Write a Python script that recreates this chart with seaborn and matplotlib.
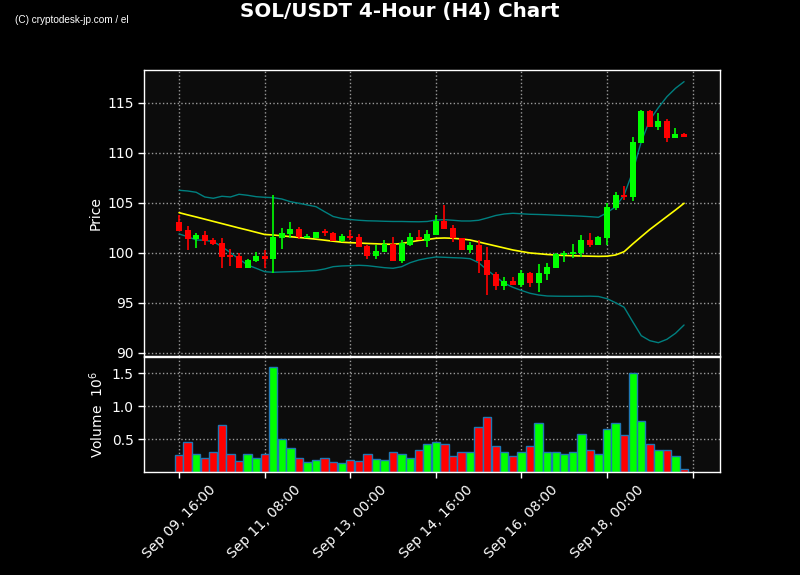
import numpy as np
import pandas as pd
import matplotlib
matplotlib.use("Agg")
import matplotlib.pyplot as plt
import seaborn as sns

# OHLC per 4h candle
opens = [103.13, 102.3, 101.4, 101.8, 101.33, 101.0, 99.77, 99.73, 98.53, 99.2,
         99.7, 99.4, 101.53, 101.93, 102.4, 101.47, 101.53, 102.17, 102.0, 101.2,
         101.73, 101.6, 100.7, 99.73, 100.13, 100.87, 99.23, 100.77, 101.6, 101.2,
         101.8, 103.17, 102.53, 101.47, 100.3, 100.8, 99.33, 97.9, 96.73, 97.2,
         96.8, 98.0, 97.03, 97.93, 98.47, 99.83, 99.93, 100.03, 101.3, 100.8,
         101.53, 104.53, 105.83, 105.63, 111.03, 114.2, 112.63, 113.2, 111.53, 111.9]
highs = [103.8, 102.7, 102.0, 102.17, 101.47, 101.47, 100.37, 100.03, 99.43, 100.07,
         100.27, 105.77, 102.47, 103.1, 102.6, 101.9, 102.1, 102.43, 102.05, 101.9,
         102.3, 101.9, 100.75, 100.8, 101.27, 101.57, 101.27, 101.97, 102.27, 102.27,
         103.8, 104.77, 102.8, 101.5, 101.07, 101.3, 100.63, 98.1, 97.57, 97.63,
         98.3, 98.05, 98.9, 98.97, 100.03, 100.23, 100.87, 101.77, 101.97, 101.65,
         104.97, 106.07, 106.67, 111.57, 114.3, 114.25, 114.03, 113.37, 112.5, 112.0]
lows = [102.2, 100.27, 100.47, 100.77, 100.83, 98.47, 98.73, 98.53, 98.53, 99.13,
        98.53, 97.97, 100.37, 101.47, 101.37, 101.47, 101.53, 101.7, 101.2, 101.1,
        101.3, 100.6, 99.37, 99.37, 100.1, 99.2, 98.97, 100.7, 101.3, 100.57,
        101.8, 102.43, 101.13, 100.3, 100.03, 97.97, 95.8, 96.3, 96.3, 96.8,
        96.57, 96.57, 96.07, 97.3, 98.45, 99.13, 99.47, 99.63, 100.63, 100.75,
        100.8, 104.3, 105.3, 105.23, 111.03, 112.63, 112.27, 111.13, 111.5, 111.6]
closes = [102.2, 101.43, 101.83, 101.2, 100.9, 99.63, 99.63, 98.53, 99.3, 99.7,
          99.43, 101.63, 102.0, 102.4, 101.63, 101.67, 102.1, 101.97, 101.23, 101.7,
          101.53, 100.63, 99.73, 100.2, 100.9, 99.23, 100.97, 101.6, 101.3, 101.9,
          103.23, 102.43, 101.5, 100.3, 100.8, 99.23, 97.8, 96.73, 97.2, 96.8,
          98.0, 97.03, 98.0, 98.57, 99.9, 100.03, 100.13, 101.3, 100.8, 101.57,
          104.6, 105.8, 105.63, 111.1, 114.2, 112.63, 113.2, 111.53, 111.9, 111.63]

# Volume in millions
volumes = [0.26, 0.45, 0.28, 0.22, 0.31, 0.72, 0.28, 0.16, 0.27, 0.22,
           0.27, 1.59, 0.50, 0.37, 0.21, 0.15, 0.18, 0.22, 0.15, 0.13,
           0.18, 0.16, 0.28, 0.19, 0.18, 0.31, 0.28, 0.22, 0.33, 0.43,
           0.45, 0.42, 0.25, 0.31, 0.30, 0.68, 0.83, 0.40, 0.30, 0.25,
           0.30, 0.39, 0.75, 0.30, 0.30, 0.28, 0.30, 0.57, 0.34, 0.28,
           0.65, 0.75, 0.56, 1.50, 0.78, 0.43, 0.34, 0.33, 0.25, 0.04]

# Bollinger bands (20, 2) as drawn
bb_mid = [104.03, 103.81, 103.6, 103.38, 103.16, 102.94, 102.72, 102.5, 102.29, 102.07,
          101.85, 101.8, 101.72, 101.63, 101.55, 101.47, 101.38, 101.28, 101.18, 101.08,
          101.03, 101.0, 100.95, 100.92, 100.88, 100.87, 100.95, 101.1, 101.25, 101.35,
          101.47, 101.5, 101.47, 101.4, 101.3, 101.1, 100.9, 100.7, 100.5, 100.3,
          100.15, 100.0, 99.93, 99.85, 99.8, 99.75, 99.72, 99.7, 99.68, 99.66,
          99.68, 99.8, 100.13, 100.9, 101.63, 102.35, 103.0, 103.65, 104.3, 104.97]
bb_upper = [106.27, 106.2, 106.07, 105.6, 105.47, 105.67, 105.6, 105.87, 105.77, 105.63,
            105.57, 105.53, 105.4, 105.13, 104.97, 104.8, 104.63, 104.13, 103.65, 103.45,
            103.35, 103.27, 103.22, 103.2, 103.17, 103.15, 103.15, 103.13, 103.12, 103.15,
            103.3, 103.33, 103.27, 103.2, 103.2, 103.27, 103.5, 103.75, 103.9, 103.97,
            103.92, 103.87, 103.85, 103.82, 103.78, 103.75, 103.72, 103.68, 103.63, 103.57,
            104.03, 104.63, 105.8, 108.13, 111.13, 113.3, 114.53, 115.63, 116.47, 117.13]
bb_lower = [101.9, 101.63, 101.3, 101.27, 101.13, 100.63, 100.03, 99.4, 98.8, 98.47,
            98.13, 98.07, 98.1, 98.13, 98.15, 98.2, 98.25, 98.4, 98.63, 98.7,
            98.73, 98.77, 98.73, 98.63, 98.53, 98.47, 98.63, 99.03, 99.3, 99.47,
            99.6, 99.57, 99.53, 99.5, 99.43, 99.03, 98.3, 97.63, 96.97, 96.57,
            96.25, 95.97, 95.8, 95.7, 95.68, 95.67, 95.67, 95.67, 95.68, 95.65,
            95.43, 95.03, 94.57, 93.13, 91.73, 91.23, 91.03, 91.37, 91.97, 92.8]

times = pd.date_range("2024-09-09 16:00", periods=len(closes), freq="4h")

UP, DOWN = "#00ff00", "#ff0000"
BG, FACE = "#000000", "#0c0c0c"

sns.set_theme(style="dark")
plt.rcParams.update({
    "font.family": ["DejaVu Sans"],
    "figure.facecolor": BG,
    "axes.facecolor": FACE,
    "axes.edgecolor": "white",
    "axes.labelcolor": "white",
    "xtick.color": "white",
    "ytick.color": "white",
    "text.color": "white",
    "xtick.bottom": True,
    "ytick.left": True,
})

df = pd.DataFrame({
    "idx": np.arange(len(closes)),
    "open": opens, "high": highs, "low": lows, "close": closes,
    "volume": volumes, "mid": bb_mid, "upper": bb_upper, "lower": bb_lower,
})
df["dir"] = np.where(df["close"] >= df["open"], "up", "down")

fig = plt.figure(figsize=(8, 5.75), dpi=100)
ax = fig.add_axes([0.18, 0.3809, 0.72, 0.4974])
axv = fig.add_axes([0.18, 0.1791, 0.72, 0.2000], sharex=ax)

# candles
colors = np.where(df["dir"] == "up", UP, DOWN)
ax.vlines(df["idx"], df["low"], df["high"], colors=colors, linewidth=1.2, zorder=3)
body_lo = df[["open", "close"]].min(axis=1)
body_h = (df["close"] - df["open"]).abs().clip(lower=0.08)
ax.bar(df["idx"], body_h, bottom=body_lo, width=0.7, color=colors, linewidth=0, zorder=4)

# bands
sns.lineplot(data=df, x="idx", y="upper", ax=ax, color="#008080", linewidth=1, zorder=2)
sns.lineplot(data=df, x="idx", y="lower", ax=ax, color="#008080", linewidth=1, zorder=2)
sns.lineplot(data=df, x="idx", y="mid", ax=ax, color="#ffff00", linewidth=1.2, zorder=2)

# volume
sns.barplot(data=df, x="idx", y="volume", hue="dir", palette={"up": UP, "down": DOWN},
            width=0.97, saturation=1, edgecolor="#1f77b4", linewidth=1,
            legend=False, native_scale=True, ax=axv)

ticks = list(range(0, len(closes) + 1, 10))
labels = [times[t].strftime("%b %d, %H:%M") if t < len(times) else "" for t in ticks]

for a in (ax, axv):
    a.grid(True, linestyle=":", color="#9a9a9a", linewidth=1)
    a.set_xticks(ticks)
    a.set_xlim(-4.1, 63.2)
    for s in a.spines.values():
        s.set_color("white")
        s.set_linewidth(1)
    a.tick_params(axis="both", labelsize=10, length=4, width=1)

ax.set_ylim(89.7, 118.3)
ax.set_yticks([90, 95, 100, 105, 110, 115])
ax.set_ylabel("Price", fontsize=10)
ax.set_xlabel("")
ax.tick_params(axis="x", labelbottom=False)

axv.set_ylim(0, 1.745)
axv.set_yticks([0.5, 1.0, 1.5])
axv.set_yticklabels(["0.5", "1.0", "1.5"])
axv.set_ylabel("Volume  $10^{6}$", fontsize=10)
axv.set_xlabel("")
axv.set_xticklabels(labels, rotation=45)
ax.yaxis.set_label_coords(-0.072, 0.5)
axv.yaxis.set_label_coords(-0.066, 0.5)

fig.text(0.5, 1 - 11 / 575, "SOL/USDT 4-Hour (H4) Chart", ha="center", va="center",
         fontsize=14.3, fontweight="bold", color="white")
fig.text(15 / 800, 1 - 20 / 575, "(C) cryptodesk-jp.com / el", ha="left", va="center",
         fontsize=7.2, family=["Liberation Sans", "DejaVu Sans"], color="white")

fig.savefig("out.png", dpi=100, facecolor=BG)
